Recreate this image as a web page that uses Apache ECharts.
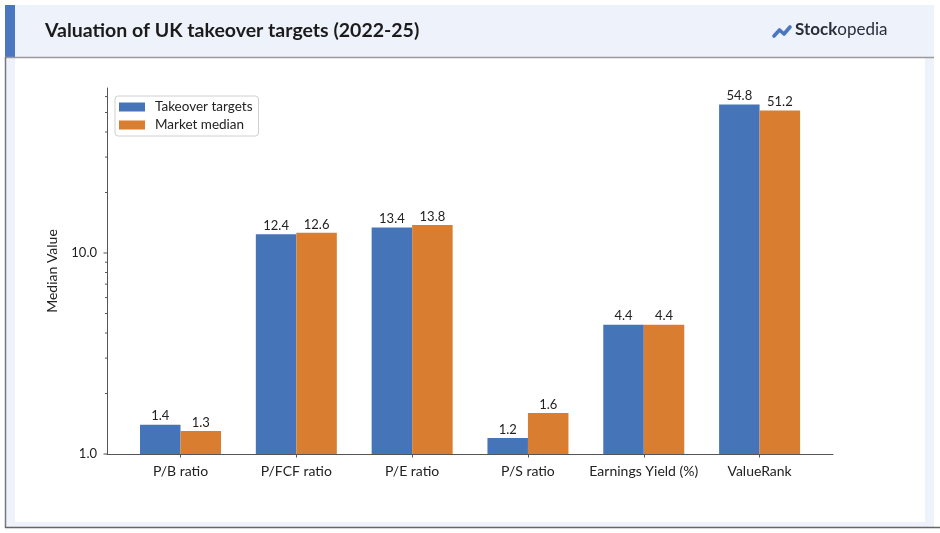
<!DOCTYPE html>
<html>
<head>
<meta charset="utf-8">
<script src="https://cdn.jsdelivr.net/npm/echarts@6/dist/echarts.min.js"></script>
<style>
html,body{margin:0;padding:0;background:#fff;}
#chart{width:940px;height:533px;}
</style>
</head>
<body>
<div id="chart"></div>
<script>
// ---- data ----
var categories = ['P/B ratio', 'P/FCF ratio', 'P/E ratio', 'P/S ratio', 'Earnings Yield (%)', 'ValueRank'];
var takeoverTargets = [1.4, 12.4, 13.4, 1.2, 4.4, 54.8];
var marketMedian = [1.3, 12.6, 13.8, 1.6, 4.4, 51.2];
var seriesNames = ['Takeover targets', 'Market median'];
var majorTickValues = [1, 10];
var minorTickValues = [2, 3, 4, 5, 6, 7, 8, 9, 20, 30, 40, 50, 60];
var yMin = 1, yMax = 66.2;
var xMin = -0.635, xMax = 5.635;

var FONT = 'Lato, "Noto Sans", sans-serif';
var BLUE = '#4674b9', ORANGE = '#d97d31';

var chart = echarts.init(document.getElementById('chart'), null, {renderer: 'canvas'});

function tickSeries(values, len) {
  return {
    type: 'custom',
    xAxisIndex: 0, yAxisIndex: 0,
    silent: true,
    z: 5,
    data: values.map(function (v) { return [xMin, v]; }),
    renderItem: function (params, api) {
      var p = api.coord([api.value(0), api.value(1)]);
      return {
        type: 'line',
        shape: {x1: p[0] - len, y1: p[1], x2: p[0], y2: p[1]},
        style: {stroke: '#555', lineWidth: 1}
      };
    }
  };
}

var option = {
  backgroundColor: '#ffffff',
  animation: false,
  textStyle: {fontFamily: FONT},
  graphic: [
    {type: 'rect', shape: {x: 5, y: 5, width: 929, height: 52}, style: {fill: '#eef2fa'}, z: -10},
    {type: 'rect', shape: {x: 5, y: 58, width: 929, height: 469}, style: {fill: '#eef2fa'}, z: -10},
    {type: 'rect', shape: {x: 15, y: 58, width: 910, height: 464}, style: {fill: '#ffffff'}, z: -9},
    {type: 'rect', shape: {x: 5, y: 5, width: 10, height: 52}, style: {fill: '#4a77c0'}, z: -8},
    {type: 'line', shape: {x1: 5, y1: 57.5, x2: 934, y2: 57.5}, style: {stroke: '#9a9a9a', lineWidth: 1.5}, z: -7},
    {type: 'line', shape: {x1: 5.5, y1: 57, x2: 5.5, y2: 528}, style: {stroke: '#777', lineWidth: 1.5}, z: -7},
    {type: 'line', shape: {x1: 5, y1: 527.5, x2: 940, y2: 527.5}, style: {stroke: '#666', lineWidth: 1.5}, z: -7},
    {type: 'text', left: 45, top: 21, style: {text: 'Valuation of UK takeover targets (2022-25)', font: 'bold 19.5px ' + FONT, fill: '#1b1b1b'}},
    {type: 'polyline', shape: {points: [[774, 36], [779.5, 30], [784, 34], [790, 27]]},
      style: {stroke: '#4a77c0', lineWidth: 3.6, lineCap: 'round', lineJoin: 'round', fill: null}},
    {type: 'text', left: 795, top: 21, style: {
      text: '{b|Stock}{r|opedia}',
      rich: {
        b: {font: 'bold 17px ' + FONT, fill: '#2a2e3a'},
        r: {font: '17px ' + FONT, fill: '#2a2e3a'}
      }
    }}
  ],
  legend: {
    left: 115, top: 96,
    orient: 'vertical',
    data: seriesNames,
    icon: 'rect',
    itemWidth: 26, itemHeight: 9,
    itemGap: 4,
    padding: [4, 6, 4, 4],
    borderColor: '#d0d0d0', borderWidth: 1, borderRadius: 3,
    backgroundColor: '#fff',
    textStyle: {fontSize: 13.5, color: '#222', fontFamily: FONT, padding: [0, 0, 0, 5]}
  },
  grid: [
    {left: 107, right: 107, top: 88, bottom: 79},
    {left: 122.6, right: 122.5, top: 88, bottom: 79}
  ],
  xAxis: [
    {type: 'value', gridIndex: 0, min: xMin, max: xMax,
      axisLine: {show: true, onZero: false, lineStyle: {color: '#555', width: 1}},
      axisTick: {show: false}, axisLabel: {show: false}, splitLine: {show: false}},
    {type: 'category', gridIndex: 1, data: categories, boundaryGap: true,
      axisLine: {show: false, onZero: false},
      axisTick: {show: true, alignWithLabel: true, length: 3.5, lineStyle: {color: '#555'}},
      axisLabel: {fontSize: 14, color: '#222', margin: 10, interval: 0, fontFamily: FONT},
      splitLine: {show: false}}
  ],
  yAxis: [
    {type: 'log', logBase: 10, gridIndex: 0, min: yMin, max: yMax,
      name: 'Median Value', nameLocation: 'middle', nameGap: 48, nameRotate: 90,
      nameTextStyle: {fontSize: 14, color: '#222', fontFamily: FONT},
      axisLine: {show: true, onZero: false, lineStyle: {color: '#555', width: 1}},
      axisTick: {show: false},
      axisLabel: {fontSize: 13, color: '#222', margin: 10, fontFamily: FONT,
        formatter: function (v) {
          var r = Math.round(v * 1000) / 1000;
          for (var i = 0; i < majorTickValues.length; i++) {
            if (Math.abs(r - majorTickValues[i]) < 1e-6) return majorTickValues[i].toFixed(1);
          }
          return '';
        }},
      splitLine: {show: false}},
    {type: 'log', logBase: 10, gridIndex: 1, min: yMin, max: yMax, show: false,
      axisLine: {onZero: false},
      axisLabel: {show: false}, splitLine: {show: false}}
  ],
  series: [
    {
      name: seriesNames[0], type: 'bar', xAxisIndex: 1, yAxisIndex: 1,
      data: takeoverTargets, barWidth: 40.5, barGap: '0%',
      itemStyle: {color: BLUE},
      label: {show: true, position: 'top', distance: 2, fontSize: 13, color: '#222', fontFamily: FONT,
        formatter: function (p) { return p.value.toFixed(1); }}
    },
    {
      name: seriesNames[1], type: 'bar', xAxisIndex: 1, yAxisIndex: 1,
      data: marketMedian, barWidth: 40.5, barGap: '0%',
      itemStyle: {color: ORANGE},
      label: {show: true, position: 'top', distance: 2, fontSize: 13, color: '#222', fontFamily: FONT,
        formatter: function (p) { return p.value.toFixed(1); }}
    },
    tickSeries(majorTickValues, 3.5),
    tickSeries(minorTickValues, 2)
  ]
};
chart.setOption(option);
</script>
</body>
</html>
